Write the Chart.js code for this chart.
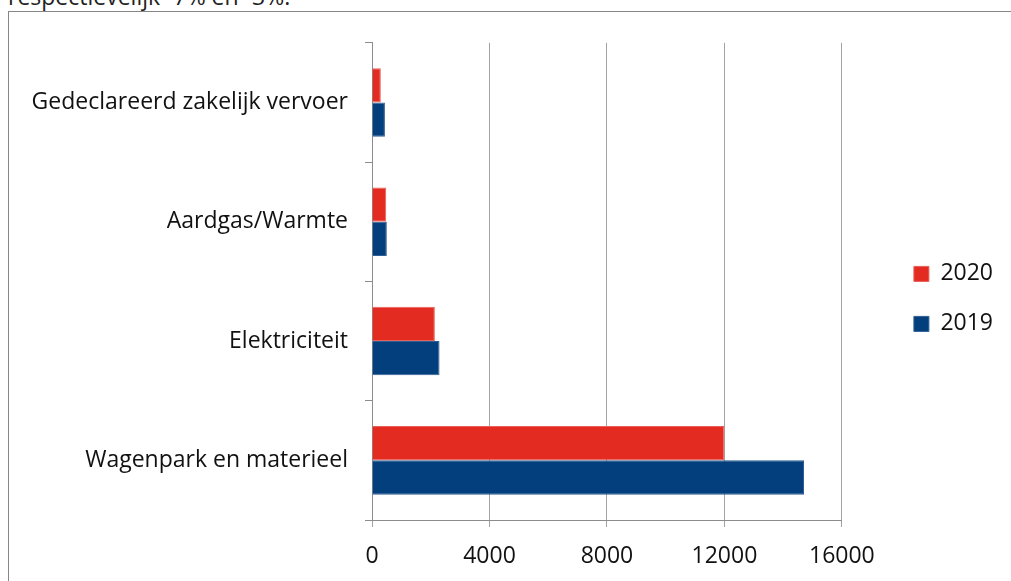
<!DOCTYPE html>
<html>
<head>
<meta charset="utf-8">
<script src="https://cdn.jsdelivr.net/npm/chart.js@4.4.1/dist/chart.umd.min.js"></script>
<style>
  html, body { margin: 0; padding: 0; background: #fff; overflow: hidden; }
  #intro { position: absolute; left: 8px; top: -15px; font-size: 23px; line-height: 23px;
           font-family: "Open Sans", sans-serif; color: #222; white-space: nowrap; }
  #frame { position: absolute; left: 8px; top: 11px; width: 1010px; height: 600px;
           border-left: 1px solid #878787; border-top: 1px solid #878787; }
  #wrap { position: absolute; left: 0; top: 0; width: 1002px; height: 569px; }
</style>
</head>
<body>
<div id="intro">respectievelijk -7% en -3%.</div>
<div id="frame">
  <div id="wrap"><canvas id="energyChart"></canvas></div>
</div>
<script>
const categories = [
  "Gedeclareerd zakelijk vervoer",
  "Aardgas/Warmte",
  "Elektriciteit",
  "Wagenpark en materieel",
];
const values2020 = [300, 485, 2140, 12000];
const values2019 = [440, 505, 2300, 14710];
const xTicks = [0, 4000, 8000, 12000, 16000];

const FONT = "'Open Sans', sans-serif";
const gridGrey = "#a3a3a3";
const axisGrey = "#8c8c8c";

const ctx = document.getElementById("energyChart").getContext("2d");

new Chart(ctx, {
  type: "bar",
  data: {
    labels: categories,
    datasets: [
      {
        label: "2020",
        data: values2020,
        backgroundColor: "#e32b21",
        borderColor: "#e8605a",
        borderWidth: 1,
      },
      {
        label: "2019",
        data: values2019,
        backgroundColor: "#023f7c",
        borderColor: "#2f5f94",
        borderWidth: 1,
      },
    ],
  },
  options: {
    indexAxis: "y",
    responsive: true,
    maintainAspectRatio: false,
    animation: false,
    categoryPercentage: 0.575,
    barPercentage: 1,
    layout: {
      padding: { top: 29, left: 0, right: 8, bottom: 0 },
    },
    plugins: {
      tooltip: { enabled: false },
      legend: {
        position: "right",
        fullSize: false,
        // empty title only pushes the two items a bit lower
        title: {
          display: true,
          text: "",
          font: { size: 12, lineHeight: 1 },
          padding: { top: 23, bottom: 0 },
        },
        labels: {
          boxWidth: 15,
          boxHeight: 15,
          padding: 27,
          color: "#111",
          font: { family: FONT, size: 23 },
        },
      },
    },
    scales: {
      x: {
        min: 0,
        max: 16000,
        afterBuildTicks: (scale) => {
          scale.ticks = xTicks.map((v) => ({ value: v }));
        },
        afterFit: (scale) => {
          scale.height = 61;
        },
        grid: {
          color: gridGrey,
          tickLength: 7,
          lineWidth: 1,
        },
        border: { color: axisGrey },
        ticks: {
          color: "#111",
          padding: 16,
          font: { family: FONT, size: 23 },
          callback: (v) => String(v),
        },
      },
      y: {
        afterFit: (scale) => {
          scale.width = 363;
        },
        grid: {
          drawOnChartArea: false,
          color: axisGrey,
          tickLength: 7,
        },
        border: { color: axisGrey },
        ticks: {
          color: "#111",
          padding: 17,
          font: { family: FONT, size: 23 },
        },
      },
      // empty right axis, only keeps the gap between plot and legend
      gap: {
        type: "linear",
        position: "right",
        display: true,
        grid: { display: false },
        ticks: { display: false },
        border: { display: false },
        afterFit: (scale) => {
          scale.width = 45;
        },
      },
    },
  },
});
</script>
</body>
</html>
